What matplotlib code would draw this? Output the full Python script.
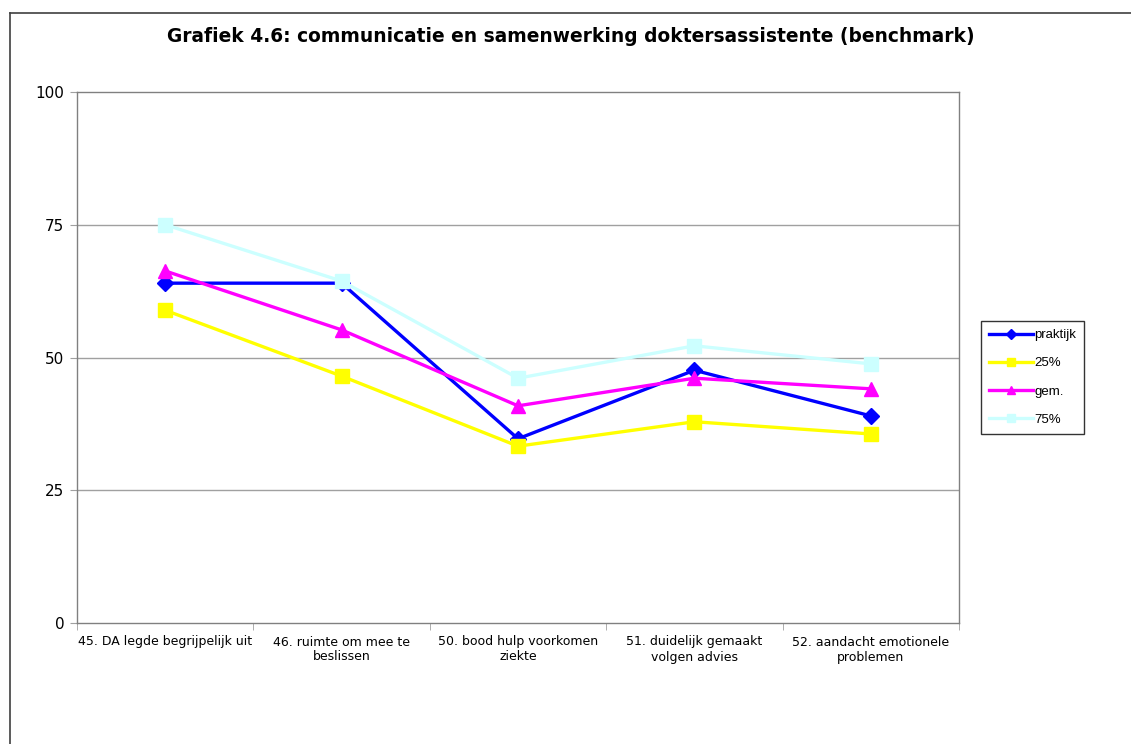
import matplotlib
matplotlib.use("Agg")
import matplotlib.pyplot as plt
from matplotlib.lines import Line2D

categories = [
    "45. DA legde begrijpelijk uit",
    "46. ruimte om mee te\nbeslissen",
    "50. bood hulp voorkomen\nziekte",
    "51. duidelijk gemaakt\nvolgen advies",
    "52. aandacht emotionele\nproblemen",
]
praktijk = [64.0, 64.0, 34.7, 47.6, 39.0]
p25 = [58.9, 46.5, 33.3, 37.9, 35.6]
gem = [66.3, 55.2, 40.9, 46.1, 44.1]
p75 = [75.0, 64.4, 46.1, 52.2, 48.8]
series_labels = ["praktijk", "25%", "gem.", "75%"]
y_ticks = [0, 25, 50, 75, 100]

W, H = 1131, 744
fig = plt.figure(figsize=(W / 100, H / 100), dpi=100)
fig.patch.set_facecolor("white")

# outer chart frame (top and left edges)
fig.add_artist(Line2D([10 / W, 1.0], [1 - 13 / H, 1 - 13 / H], color="#404040", lw=1.2))
fig.add_artist(Line2D([10 / W, 10 / W], [0, 1 - 13 / H], color="#404040", lw=1.2))

ax = fig.add_axes([77 / W, 1 - 623 / H, (959 - 77) / W, (623 - 92) / H])
x = list(range(len(categories)))

styles = [
    (praktijk, "#0000FF", "D", 8),
    (p25, "#FFFF00", "s", 9.5),
    (gem, "#FF00FF", "^", 10),
    (p75, "#CCFFFF", "s", 9.5),
]
handles = []
for (vals, col, mk, ms), lab in zip(styles, series_labels):
    h, = ax.plot(x, vals, color=col, marker=mk, markersize=ms, lw=2.4,
                 markeredgecolor=col, label=lab, zorder=3)
    handles.append(h)

ax.set_xlim(-0.5, len(categories) - 0.5)
ax.set_ylim(0, 100)
ax.set_yticks(y_ticks)
ax.set_yticklabels([str(v) for v in y_ticks], fontsize=11, family="DejaVu Sans")
for yv in y_ticks[1:-1]:
    ax.axhline(yv, color="#A0A0A0", lw=1, zorder=1)

ax.set_xticks(x)
ax.set_xticklabels(categories, fontsize=9, family="DejaVu Sans", linespacing=1.2)
ax.set_xticks([i + 0.5 for i in range(-1, len(categories))], minor=True)
ax.tick_params(axis="x", which="major", length=0, pad=9)
ax.tick_params(axis="x", which="minor", length=5, color="#A0A0A0")
ax.tick_params(axis="y", length=5, color="#A0A0A0", pad=4)

for s in ax.spines.values():
    s.set_color("#808080")
    s.set_linewidth(1)

fig.text(0.5 * (10 / W + 1), 1 - 37 / H,
         "Grafiek 4.6: communicatie en samenwerking doktersassistente (benchmark)",
         ha="center", va="center", fontsize=13.4, fontweight="bold", family="DejaVu Sans")

leg = fig.legend(handles=handles, labels=series_labels,
                 loc="upper left", bbox_to_anchor=(981 / W, 1 - 321 / H),
                 frameon=True, fancybox=False, edgecolor="black",
                 prop={"family": "Liberation Sans", "size": 9.5},
                 handlelength=3.3, handletextpad=0.1, labelspacing=1.2,
                 borderpad=0.62, borderaxespad=0, markerscale=0.6)
leg.get_frame().set_linewidth(1)

fig.savefig("out.png", dpi=100)
